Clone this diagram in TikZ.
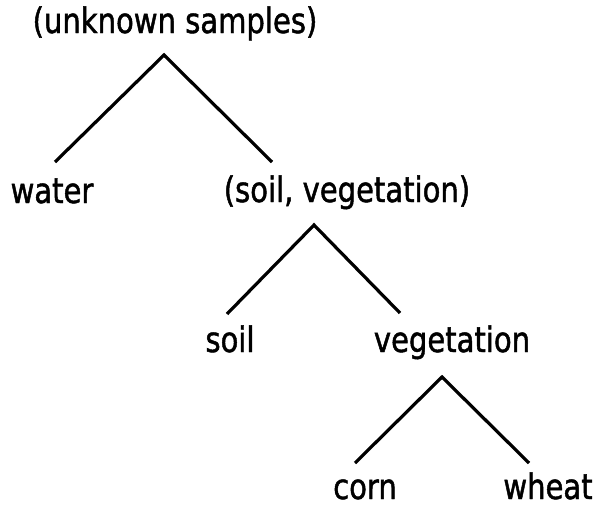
\documentclass[tikz,border=0pt]{standalone}
\usepackage{fontspec}
\setmainfont{DejaVu Sans}[FakeStretch=0.83, FakeBold=1.3]
\begin{document}
\begin{tikzpicture}[x=1pt,y=-1pt,
  lbl/.style={font=\fontsize{35}{40}\selectfont, anchor=base, inner sep=0pt},
  branch/.style={line width=3.2pt, line join=miter}]
\useasboundingbox[fill=white] (0,0) rectangle (595,507);

% labels of the tree
\node[lbl] (root) at (175,33)  {(unknown samples)};
\node[lbl] (water) at (52,203) {water};
\node[lbl] (sv) at (347,202)   {(soil, vegetation)};
\node[lbl] (soil) at (230,352) {soil};
\node[lbl] (veg) at (452,352)  {vegetation};
\node[lbl] (corn) at (365,499) {corn};
\node[lbl] (wheat) at (548,499) {wheat};

% branch points and branch ends
\coordinate (a1) at (164,55);
\coordinate (a1l) at (55,162);
\coordinate (a1r) at (272,162);
\coordinate (a2) at (314,225);
\coordinate (a2l) at (227,314);
\coordinate (a2r) at (400,313);
\coordinate (a3) at (442,377);
\coordinate (a3l) at (355,463);
\coordinate (a3r) at (529,463);

% branches
\draw[branch] (a1l) -- (a1) -- (a1r);
\draw[branch] (a2l) -- (a2) -- (a2r);
\draw[branch] (a3l) -- (a3) -- (a3r);
\end{tikzpicture}
\end{document}
